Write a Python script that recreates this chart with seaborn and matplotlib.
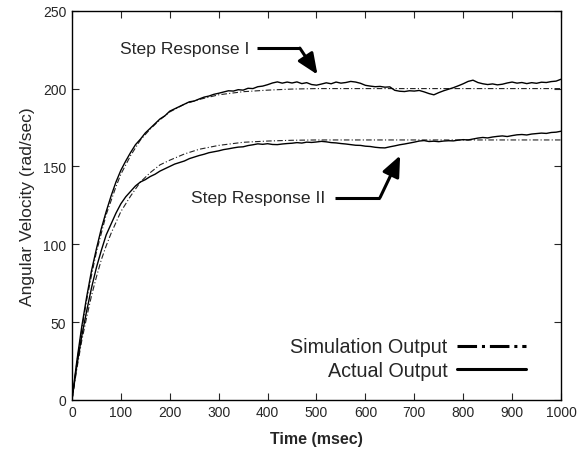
import numpy as np
import pandas as pd
import matplotlib
matplotlib.use("Agg")
import matplotlib.pyplot as plt
import seaborn as sns

# simulation output (smooth first-order responses)
sim_time = [0, 10, 20, 30, 40, 50, 60, 70, 80, 90, 100, 120, 140, 160, 180, 200,
            230, 260, 300, 350, 400, 450, 500, 1000]
sim_resp1 = [0, 24, 45, 64, 80, 95, 107, 119, 128, 137, 145, 157, 167, 174, 180, 185,
             190, 193, 196, 198, 199, 199.7, 200, 200]
sim_resp2 = [0, 20, 38, 53, 67, 79, 90, 99, 107, 114, 121, 131, 140, 146, 151, 154,
             158, 161, 163.5, 165.5, 166.3, 166.8, 167, 167]

# measured output, every 10 ms from 0 to 1000
act_time = list(range(0, 1001, 10))
act_resp1 = [0, 25, 47, 66, 83, 97, 110, 121, 131, 140,
             147.5, 153.5, 159, 164, 167.5, 171.5, 174.5, 177.5, 180.5, 182.5,
             185.5, 187, 188.5, 190, 191.5, 192, 193.3, 194.5, 195.2, 196.3,
             197.0, 197.8, 198.6, 198.4, 199.3, 199.0, 200.2, 200.0, 201.2, 201.6,
             202.5, 203.6, 204.3, 203.5, 204.2, 203.6, 204.3, 203.2, 203.8, 202.6,
             202.2, 202.9, 203.7, 203.1, 204.2, 203.5, 203.9, 204.6, 204.2, 203.4,
             202.1, 201.6, 201.2, 201.4, 200.9, 201.1, 198.9, 198.3, 198.1, 198.6,
             198.4, 198.8, 197.9, 196.8, 196.0, 197.4, 198.6, 199.6, 200.6, 201.8,
             203.1, 204.6, 205.4, 203.9, 203.1, 202.6, 203.0, 202.4, 202.8, 203.6,
             204.2, 203.5, 203.9, 203.2, 203.8, 203.4, 204.1, 203.9, 204.5, 204.8,
             206.0]
act_resp2 = [0, 22, 41, 57, 72, 85, 96, 106, 113, 120,
             126, 130.5, 134, 137.5, 140, 141.5, 143.5, 145, 147, 148.5,
             150, 151.5, 152.5, 153.5, 155, 156, 157, 157.8, 158.8, 159.4,
             160.0, 160.8, 161.3, 161.9, 162.4, 162.6, 163.4, 163.9, 164.5, 164.2,
             164.6, 164.1, 164.0, 164.4, 164.7, 164.9, 165.3, 165.0, 165.6, 165.4,
             165.7, 166.1, 165.8, 165.3, 165.1, 164.7, 164.4, 164.0, 163.6, 163.5,
             163.0, 162.8, 162.3, 162.0, 161.9, 162.6, 163.2, 163.9, 164.4, 165.0,
             165.6, 166.3, 166.6, 166.0, 166.2, 165.9, 166.3, 166.5, 166.4, 166.9,
             167.2, 167.0, 167.6, 168.2, 168.6, 168.3, 168.9, 169.3, 169.6, 169.2,
             169.8, 170.3, 170.5, 170.2, 170.8, 171.1, 171.4, 171.2, 171.8, 172.0,
             172.6]

sns.set_style("ticks")
plt.rcParams["font.family"] = ["Liberation Sans", "DejaVu Sans"]

fig = plt.figure(figsize=(5.85, 4.52), dpi=100)
ax = fig.add_axes([0.123, 0.113, 0.836, 0.861])

sim_kw = dict(color="#222222", lw=0.8, linestyle=(0, (5, 2, 1, 2)), estimator=None,
              sort=False, ax=ax)
act_kw = dict(color="black", lw=1.0, linestyle="-", estimator=None, sort=False, ax=ax)
sns.lineplot(x=sim_time, y=sim_resp1, label="Simulation Output", **sim_kw)
sns.lineplot(x=sim_time, y=sim_resp2, **sim_kw)
sns.lineplot(x=act_time, y=act_resp1, label="Actual Output", **act_kw)
sns.lineplot(x=act_time, y=act_resp2, **act_kw)

ax.set_xlim(0, 1000)
ax.set_ylim(0, 250)
ax.set_xticks(np.arange(0, 1001, 100))
ax.set_yticks(np.arange(0, 251, 50))
ax.tick_params(direction="in", top=True, right=True, length=5, width=0.8,
               labelsize=10, pad=4)
for s in ax.spines.values():
    s.set_linewidth(1.0)
    s.set_color("black")

ax.set_xlabel("Time (msec)", fontsize=11.5, fontweight="bold", labelpad=8)
ax.set_ylabel("Angular Velocity (rad/sec)", fontsize=12.5, labelpad=6)

# annotations with bent arrows
arrow = dict(arrowstyle="-|>,head_length=0.7,head_width=0.3", color="black", lw=2.2,
             mutation_scale=18, shrinkA=0, shrinkB=0)
ax.text(362, 226, "Step Response I", fontsize=12.6, ha="right", va="center")
ax.plot([378, 466], [226, 226], color="black", lw=2.2, solid_capstyle="butt")
ax.annotate("", xy=(502, 209), xytext=(466, 226), arrowprops=arrow)

ax.text(518, 130, "Step Response II", fontsize=12.6, ha="right", va="center")
ax.plot([538, 630], [130, 130], color="black", lw=2.2, solid_capstyle="butt")
ax.annotate("", xy=(671, 157), xytext=(630, 130), arrowprops=arrow)

leg = ax.legend(loc="lower right", bbox_to_anchor=(0.945, 0.03), frameon=False,
                markerfirst=False, fontsize=14.2, handlelength=3.5,
                handletextpad=0.5, labelspacing=0.25, borderaxespad=0)
for h in leg.get_lines():
    h.set_linewidth(2.2)
    h.set_color("black")
leg.get_lines()[0].set_linestyle("-.")

fig.savefig("out.png", dpi=100)
